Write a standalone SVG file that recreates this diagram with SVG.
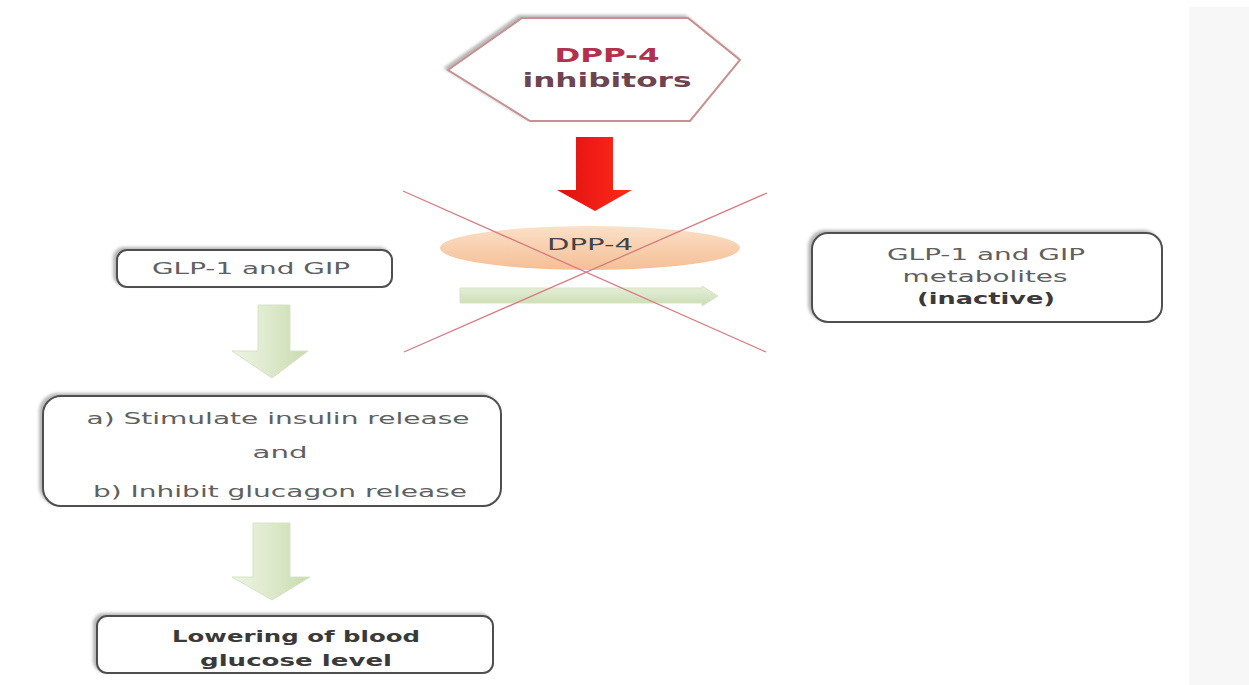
<svg xmlns="http://www.w3.org/2000/svg" width="1249" height="685" viewBox="0 0 1249 685">
<defs>
<style>
.box{fill:#ffffff;stroke:#505050;stroke-width:2;filter:url(#sh)}
.t{font-family:"DejaVu Sans","Liberation Sans",sans-serif;fill:#606060;text-anchor:middle}
.b{font-weight:bold;fill:#3a3a3a}
.x{stroke:#d97a7e;stroke-width:1.3;fill:none}
.garrow{fill:url(#gv);stroke:#d6e4c4;stroke-width:1}
</style>
<filter id="sh" x="-10%" y="-20%" width="120%" height="140%">
<feDropShadow dx="-3" dy="-2" stdDeviation="1.5" flood-color="#888" flood-opacity="0.6"/>
</filter>
<linearGradient id="gv" x1="0" y1="0" x2="1" y2="0">
<stop offset="0" stop-color="#eef4e4"/>
<stop offset="0.5" stop-color="#dde9cc"/>
<stop offset="1" stop-color="#c8dbae"/>
</linearGradient>
<linearGradient id="gh" x1="0" y1="0" x2="0" y2="1">
<stop offset="0" stop-color="#e6f0da"/>
<stop offset="1" stop-color="#c9dcb3"/>
</linearGradient>
<linearGradient id="pe" x1="0" y1="0" x2="0" y2="1">
<stop offset="0" stop-color="#fbe0c8"/>
<stop offset="1" stop-color="#f5bf95"/>
</linearGradient>
<linearGradient id="red" x1="0" y1="0" x2="1" y2="0">
<stop offset="0" stop-color="#e01010"/>
<stop offset="1" stop-color="#ff2a1a"/>
</linearGradient>
</defs>
<rect x="0" y="0" width="1249" height="685" fill="#ffffff"/>
<rect x="1189" y="7" width="60" height="678" fill="#f7f7f7"/>

<g id="node-inhibitors">
<polygon points="448,70 522,18 688,18 740,60 690,121 530,121" fill="#ffffff" stroke="#c89090" stroke-width="2" filter="url(#sh)"/>
<text class="t b" x="607" y="62" font-size="20" fill="#b3304f" style="fill:#b3304f" textLength="105" lengthAdjust="spacingAndGlyphs">DPP-4</text>
<text class="t b" x="607" y="87" font-size="20" style="fill:#6e4450" textLength="169" lengthAdjust="spacingAndGlyphs">inhibitors</text>
</g>

<g id="node-dpp4">
<ellipse cx="590" cy="248" rx="150" ry="22" fill="url(#pe)"/>
<text class="t" x="590" y="250" font-size="16" style="fill:#444" textLength="86" lengthAdjust="spacingAndGlyphs">DPP-4</text>
</g>

<g id="node-glp">
<rect class="box" x="117" y="250" width="275" height="37" rx="10"/>
<text class="t" x="251" y="274" font-size="15" textLength="198" lengthAdjust="spacingAndGlyphs">GLP-1 and GIP</text>
</g>

<g id="node-metabolites">
<rect class="box" x="812" y="233" width="350" height="89" rx="16"/>
<text class="t" x="986" y="260" font-size="15" textLength="198" lengthAdjust="spacingAndGlyphs">GLP-1 and GIP</text>
<text class="t" x="985" y="282" font-size="15" textLength="165" lengthAdjust="spacingAndGlyphs">metabolites</text>
<text class="t b" x="986" y="304" font-size="15" textLength="138" lengthAdjust="spacingAndGlyphs">(inactive)</text>
</g>

<g id="node-effects">
<rect class="box" x="43" y="396" width="458" height="110" rx="18"/>
<text class="t" x="278" y="424" font-size="16" textLength="383" lengthAdjust="spacingAndGlyphs">a) Stimulate insulin release</text>
<text class="t" x="280" y="458" font-size="16" textLength="55" lengthAdjust="spacingAndGlyphs">and</text>
<text class="t" x="280" y="497" font-size="16" textLength="374" lengthAdjust="spacingAndGlyphs">b) Inhibit glucagon release</text>
</g>

<g id="node-lowering">
<rect class="box" x="97" y="616" width="396" height="57" rx="10"/>
<text class="t b" x="296" y="642" font-size="16" textLength="248" lengthAdjust="spacingAndGlyphs">Lowering of blood</text>
<text class="t b" x="296" y="666" font-size="16" textLength="192" lengthAdjust="spacingAndGlyphs">glucose level</text>
</g>

<g id="connectors">
<polygon points="576,137 613,137 613,190 632,190 595,211 557,190 576,190" fill="url(#red)"/>
<polygon points="460,288 702,288 702,286 718,296 702,306 702,303 460,303" fill="url(#gh)" stroke="#d6e4c4" stroke-width="1"/>
<polygon class="garrow" points="258,305 290,305 290,351 308,351 272,378 232,351 258,351"/>
<polygon class="garrow" points="253,523 290,523 290,577 310,577 272,600 232,577 253,577"/>
<line class="x" x1="403" y1="191" x2="766" y2="352"/>
<line class="x" x1="404" y1="352" x2="767" y2="193"/>
</g>
</svg>
